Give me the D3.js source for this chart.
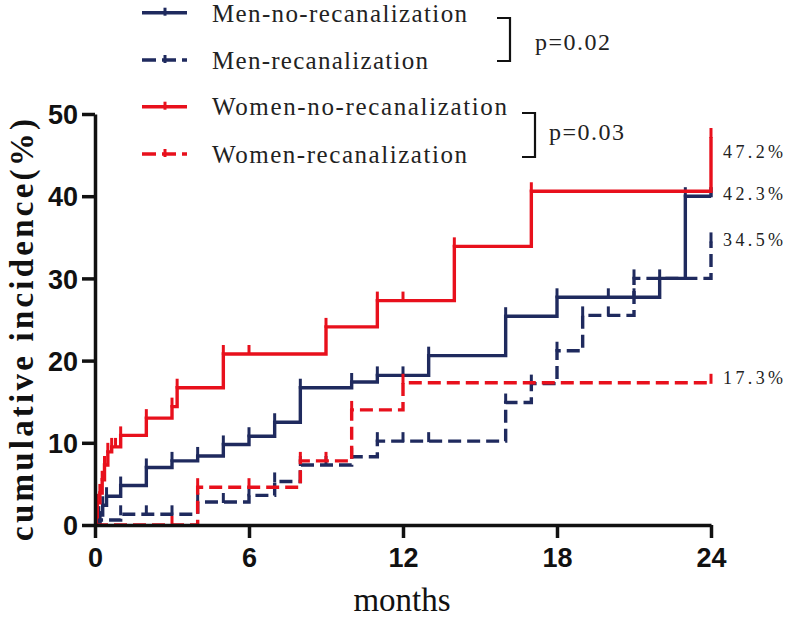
<!DOCTYPE html>
<html><head><meta charset="utf-8">
<script src="https://cdn.jsdelivr.net/npm/d3@7"></script>
<style>body{margin:0;background:#fff}svg{display:block}</style>
</head><body>
<svg id="chart" width="787" height="618"></svg>
<script>
// ---- data (months, cumulative incidence %) ----
const xTicks = [0, 6, 12, 18, 24];
const yTicks = [0, 10, 20, 30, 40, 50];

const menNoTimes   = [0, 0.15, 0.3, 0.45, 1.0, 2.0, 3.0, 4.0, 5.0, 6.0, 7.0, 8.0, 10.0, 11.0, 13.0, 16.0, 18.0, 22.0, 23.0, 24.0];
const menNoValues  = [0, 1.2, 2.4, 3.5, 4.8, 7.0, 7.8, 8.4, 9.8, 10.8, 12.5, 16.7, 17.4, 18.2, 20.6, 25.4, 27.7, 30.0, 40.0, 40.0];
const menNoCensor  = [12, 20, 21, 24];

const menReTimes   = [0, 0.2, 1.0, 4.0, 6.0, 7.0, 8.0, 10.0, 11.0, 16.0, 17.0, 18.0, 19.0, 21.0, 24.0];
const menReValues  = [0, 0.6, 1.3, 2.8, 3.6, 5.3, 7.3, 8.3, 10.2, 14.9, 17.2, 21.2, 25.5, 30.0, 34.5];
const menReCensor  = [2, 3, 5, 9, 12, 13, 20];

const womNoTimes   = [0, 0.05, 0.09, 0.19, 0.28, 0.37, 0.5, 0.65, 1.0, 2.0, 3.0, 3.2, 5.0, 9.0, 11.0, 14.0, 17.0, 24.0];
const womNoValues  = [0, 1.0, 2.7, 3.9, 5.5, 7.3, 8.9, 9.5, 10.9, 13.0, 14.4, 16.7, 20.8, 24.1, 27.3, 33.9, 40.6, 47.2];
const womNoCensor  = [0.8, 6, 12];

const womReTimes   = [0, 4.0, 8.0, 10.0, 12.0, 24.0];
const womReValues  = [0, 4.6, 7.8, 14.0, 17.3, 17.3];
const womReCensor  = [3, 6, 9];

const seriesNames  = ["Men-no-recanalization", "Men-recanalization", "Women-no-recanalization", "Women-recanalization"];
const endLabels    = ["42.3%", "34.5%", "47.2%", "17.3%"];
const endLabelVals = [42.3, 34.5, 47.2, 17.3];
const pLabels      = ["p=0.02", "p=0.03"];

// ---- setup ----
const NAVY = "#1f2a5e", RED = "#e8101c";
const svg = d3.select("#chart");
const x = d3.scaleLinear().domain([0, 24]).range([95, 711]);
const y = d3.scaleLinear().domain([0, 50]).range([525, 114]);

const series = [
  {t: menNoTimes, v: menNoValues, c: menNoCensor, color: NAVY, dash: null},
  {t: menReTimes, v: menReValues, c: menReCensor, color: NAVY, dash: "13,6"},
  {t: womNoTimes, v: womNoValues, c: womNoCensor, color: RED, dash: null},
  {t: womReTimes, v: womReValues, c: womReCensor, color: RED, dash: "13,6"}
];

// value at a time for a step function
function valAt(s, t) {
  let val = 0;
  for (let i = 0; i < s.t.length; i++) if (s.t[i] <= t) val = s.v[i];
  return val;
}

const line = d3.line().x(d => x(d[0])).y(d => y(d[1])).curve(d3.curveStepAfter);
const plot = svg.append("g");
const drawOrder = [1, 0, 3, 2];
drawOrder.forEach(i => {
  const s = series[i];
  const pts = s.t.map((t, k) => [t, s.v[k]]);
  plot.append("path").attr("d", line(pts))
    .attr("fill", "none").attr("stroke", s.color).attr("stroke-width", 3.4)
    .attr("stroke-dasharray", s.dash).attr("stroke-linejoin", "miter");
  // ticks at step corners and censor times
  const tickTimes = s.t.slice(1).concat(s.c);
  plot.selectAll(null).data(tickTimes).enter().append("line")
    .attr("x1", d => x(d)).attr("x2", d => x(d))
    .attr("y1", d => y(valAt(s, d)) + 1)
    .attr("y2", d => y(valAt(s, d)) - 9)
    .attr("stroke", s.color).attr("stroke-width", 3);
});

// ---- axes ----
const xAxis = svg.append("g").attr("transform", "translate(0,525)")
  .call(d3.axisBottom(x).tickValues(xTicks).tickSize(13).tickSizeOuter(0).tickPadding(10));
const yAxis = svg.append("g").attr("transform", "translate(95,0)")
  .call(d3.axisLeft(y).tickValues(yTicks).tickSize(13).tickSizeOuter(0).tickPadding(4));
[xAxis, yAxis].forEach(a => {
  a.select(".domain").attr("stroke", "#111").attr("stroke-width", 3.5);
  a.selectAll(".tick line").attr("stroke", "#111").attr("stroke-width", 3.5);
  a.selectAll(".tick text").attr("fill", "#111")
    .style("font-family", "'Liberation Sans', Arial, sans-serif")
    .style("font-weight", "bold").style("font-size", "27px");
});
yAxis.selectAll(".tick text").attr("dy", "0.36em");

// axis titles
svg.append("text").attr("x", 402).attr("y", 611).attr("text-anchor", "middle")
  .style("font-family", "'Liberation Serif', 'Times New Roman', serif")
  .style("font-size", "33px").attr("fill", "#111").text("months");
svg.append("text").attr("transform", "translate(33,330) rotate(-90)")
  .attr("text-anchor", "middle")
  .attr("textLength", 422).attr("lengthAdjust", "spacing")
  .style("font-family", "'Liberation Serif', 'Times New Roman', serif")
  .style("font-weight", "bold").style("font-size", "33px").attr("fill", "#111")
  .text("cumulative incidence(%)");

// end labels
svg.selectAll(".endlab").data(endLabels).enter().append("text")
  .attr("x", 723)
  .attr("y", (d, i) => [200, 245.5, 158, 384][i])
  .attr("textLength", 60).attr("lengthAdjust", "spacing")
  .style("font-family", "'Liberation Serif', 'Times New Roman', serif")
  .style("font-size", "18px").attr("fill", "#222").text(d => d);

// ---- legend ----
const legY = [12.7, 60, 106.7, 154];
const legBase = [21.7, 68.5, 115, 163];
const legLen = [255, 216, 295, 255];
const leg = svg.append("g");
series.forEach((s, i) => {
  leg.append("line").attr("x1", 142).attr("x2", 187).attr("y1", legY[i]).attr("y2", legY[i])
    .attr("stroke", s.color).attr("stroke-width", 3.4)
    .attr("stroke-dasharray", s.dash ? "14,6" : null);
  leg.append("line").attr("x1", 165).attr("x2", 165).attr("y1", legY[i] + 3).attr("y2", legY[i] - 5)
    .attr("stroke", s.color).attr("stroke-width", 3);
  leg.append("text").attr("x", 212).attr("y", legBase[i])
    .attr("textLength", legLen[i]).attr("lengthAdjust", "spacing")
    .style("font-family", "'Liberation Serif', 'Times New Roman', serif")
    .style("font-size", "25px").attr("fill", "#222").text(seriesNames[i]);
});
// brackets and p-values
const brackets = [{x: 510, y1: 18, y2: 61, px: 535, py: 50}, {x: 535, y1: 113, y2: 157, px: 549, py: 140}];
brackets.forEach((b, i) => {
  leg.append("path")
    .attr("d", `M${b.x - 13},${b.y1}H${b.x}V${b.y2}H${b.x - 13}`)
    .attr("fill", "none").attr("stroke", "#111").attr("stroke-width", 2.2);
  leg.append("text").attr("x", b.px).attr("y", b.py)
    .attr("textLength", 75).attr("lengthAdjust", "spacing")
    .style("font-family", "'Liberation Serif', 'Times New Roman', serif")
    .style("font-size", "24px").attr("fill", "#222").text(pLabels[i]);
});
</script>
</body></html>
